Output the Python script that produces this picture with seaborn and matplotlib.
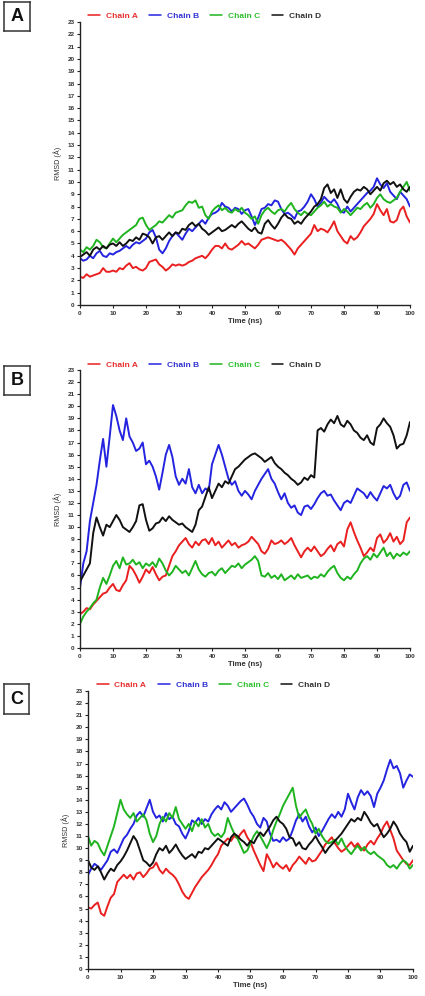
import numpy as np
import pandas as pd
import matplotlib
matplotlib.use("Agg")
import matplotlib.pyplot as plt
import seaborn as sns

# ---------------- data ----------------
TIME = list(range(0, 101))          # ns
CHAINS = ["Chain A", "Chain B", "Chain C", "Chain D"]
PANELS = ["A", "B", "C"]
ZERO_START = 0.0                    # frame 0 of panels A and B

A_A = [2.3, 2.2, 2.5, 2.3, 2.4, 2.5, 2.6, 3.0, 2.7, 2.7,
       2.8, 2.7, 3.0, 2.9, 3.2, 3.4, 3.0, 3.1, 2.9, 2.8,
       3.0, 3.5, 3.6, 3.7, 3.3, 3.1, 2.8, 3.0, 3.3, 3.2,
       3.3, 3.2, 3.3, 3.5, 3.6, 3.8, 3.9, 4.0, 3.8, 4.1,
       4.5, 4.8, 4.8, 4.6, 5.0, 4.6, 4.5, 4.7, 4.9, 5.2,
       4.9, 5.0, 4.8, 4.6, 4.9, 5.3, 5.4, 5.5, 5.4, 5.3,
       5.2, 5.3, 5.1, 4.8, 4.5, 4.1, 4.6, 4.9, 5.2, 5.5,
       5.8, 6.5, 6.0, 6.2, 6.1, 5.9, 6.3, 6.8, 6.0, 5.6,
       5.2, 5.0, 5.6, 5.3, 5.5, 5.9, 6.4, 6.7, 7.0, 7.4,
       8.2, 7.7, 7.3, 7.8, 6.8, 6.7, 6.9, 7.7, 8.0, 7.2,
       6.7]
A_B = [3.8, 3.6, 3.7, 4.0, 3.8, 4.2, 4.4, 4.0, 3.9, 4.2,
       4.1, 4.3, 4.4, 4.6, 4.8, 4.6, 4.9, 5.1, 5.0, 5.2,
       5.4, 5.9, 6.1, 5.5, 4.5, 4.2, 4.6, 5.2, 5.6, 5.9,
       5.6, 5.3, 5.8, 6.2, 6.0, 6.3, 6.6, 6.9, 6.6, 7.1,
       7.4, 7.5, 7.7, 8.3, 8.0, 7.9, 7.6, 7.9, 7.8, 7.4,
       7.7, 7.8, 7.2, 6.5, 7.1, 7.8, 7.9, 8.2, 8.1, 8.5,
       8.4, 7.8, 7.4, 7.5, 7.3, 7.0, 7.6, 7.7, 8.0, 8.4,
       9.0, 8.6, 8.0, 8.3, 8.8, 8.5, 8.3, 8.6, 8.2, 7.6,
       7.5, 8.0, 7.6, 7.9, 8.2, 8.5, 8.8, 9.1, 9.3, 9.6,
       10.3, 9.8, 9.5, 9.9, 9.2, 8.9, 8.6, 9.2, 8.9, 8.6,
       8.0]
A_C = [4.5, 4.3, 4.7, 4.5, 4.8, 5.3, 5.1, 4.7, 4.6, 5.0,
       5.4, 5.1, 5.4, 5.7, 5.9, 6.1, 6.3, 6.5, 7.0, 7.1,
       6.5, 6.1, 6.3, 6.5, 6.8, 6.7, 7.0, 7.3, 7.1, 7.5,
       7.6, 7.7, 8.1, 8.4, 8.3, 8.5, 7.9, 8.0, 7.3, 7.0,
       7.6, 7.9, 8.1, 7.7, 7.9, 7.6, 7.5, 7.8, 7.6, 7.9,
       7.5, 7.3, 7.0, 7.2, 6.6, 7.3, 7.7, 7.9, 7.6, 7.4,
       7.7, 7.8, 7.6, 8.0, 8.3, 7.8, 7.5, 7.3, 7.6, 7.4,
       7.3, 7.6, 7.9, 8.1, 8.4, 8.0, 8.2, 8.0, 7.9, 7.5,
       7.8, 7.6, 7.3, 7.6, 7.9, 7.8, 8.1, 8.3, 7.9, 8.2,
       8.7, 9.0, 8.6, 8.4, 8.3, 8.5, 8.7, 9.2, 9.6, 10.0,
       9.3]
A_D = [3.9, 4.1, 4.3, 4.0, 4.5, 4.7, 4.5, 4.8, 4.6, 4.9,
       5.0, 4.8, 5.1, 4.8, 5.0, 5.3, 5.2, 5.5, 5.3, 5.8,
       5.7, 5.5, 5.0, 5.5, 5.6, 5.3, 5.6, 5.9, 5.6, 5.9,
       5.8, 6.2, 6.1, 6.5, 6.7, 6.4, 6.6, 6.2, 6.0, 5.7,
       5.9, 6.1, 6.3, 6.0, 6.1, 6.3, 6.5, 6.3, 6.6, 6.8,
       6.5, 6.2, 6.0, 6.3, 5.9, 5.8, 6.6, 6.9, 6.5, 6.2,
       6.6, 7.1, 7.4, 7.1, 7.0, 6.6, 6.8, 6.6, 7.0, 7.3,
       7.6, 8.0, 8.2, 8.6, 9.5, 9.8, 9.1, 9.4, 8.7, 9.4,
       8.6, 8.3, 8.8, 9.2, 9.4, 9.3, 9.6, 9.4, 9.0, 9.3,
       9.6, 9.3, 9.9, 10.1, 9.8, 10.0, 9.6, 9.8, 9.4, 9.2,
       9.6]

B_A = [2.8, 3.0, 3.3, 3.2, 3.6, 3.9, 4.2, 4.5, 4.6, 5.0,
       5.3, 4.8, 4.7, 5.2, 5.6, 6.8, 6.5, 6.0, 5.4, 5.9,
       6.5, 6.2, 6.7, 6.1, 5.6, 5.9, 6.0, 6.8, 7.6, 8.0,
       8.5, 8.8, 9.1, 8.6, 8.3, 8.8, 8.5, 8.9, 9.0, 8.6,
       9.1, 8.5, 8.8, 8.3, 8.6, 8.9, 8.5, 8.7, 8.3, 8.5,
       8.6, 8.8, 9.2, 8.9, 8.6, 8.0, 7.8, 8.2, 8.9, 8.6,
       8.7, 8.9, 8.6, 8.8, 9.1, 8.5, 8.0, 7.5, 8.0, 8.3,
       8.0, 8.4, 8.0, 7.6, 7.8, 8.2, 8.5, 8.0, 8.6, 8.8,
       8.4, 9.8, 10.4, 9.6, 8.9, 8.3, 7.6, 7.9, 8.3, 8.0,
       9.1, 9.4, 8.7, 9.0, 9.5, 8.8, 9.2, 8.6, 8.9, 10.4,
       10.8]
B_B = [5.0, 7.0, 8.0, 10.5, 12.0, 13.5, 15.5, 17.3, 15.0, 17.5,
       20.1, 19.2, 18.0, 17.2, 19.0, 17.5, 17.0, 16.3, 16.5, 17.0,
       15.2, 15.5, 15.0, 14.2, 13.1, 14.5, 16.0, 16.8, 15.8, 14.2,
       13.5, 14.0, 13.6, 14.8, 13.3, 12.8, 13.5, 12.8, 13.2, 13.0,
       15.2, 16.0, 16.8, 16.0, 15.0, 14.0, 13.5, 13.8, 13.0, 12.6,
       13.0, 12.7, 12.3, 13.0, 13.5, 14.0, 14.4, 14.8, 14.0, 13.6,
       12.9, 12.3, 12.8, 12.0, 11.6, 11.8, 11.2, 11.0, 11.7, 11.8,
       11.5, 11.9, 12.4, 12.8, 13.0, 12.6, 12.7, 12.2, 11.8, 11.4,
       12.0, 12.2, 12.0, 12.6, 13.2, 13.0, 12.8, 12.4, 12.9, 12.5,
       12.2, 12.8, 13.4, 13.2, 13.5, 12.8, 12.3, 12.6, 13.5, 13.7,
       13.0]
B_C = [2.0, 2.6, 3.0, 3.3, 3.7, 4.0, 5.0, 5.8, 5.3, 6.0,
       6.8, 7.2, 6.6, 7.5, 6.9, 7.0, 7.3, 6.9, 7.1, 6.6,
       7.0, 6.8, 7.1, 6.7, 7.4, 7.0, 6.4, 6.0, 6.3, 6.8,
       6.5, 6.2, 6.4, 6.0, 6.6, 7.2, 6.5, 6.1, 5.9, 6.2,
       6.3, 6.0, 6.4, 6.6, 6.2, 6.5, 6.8, 6.7, 7.0, 6.6,
       6.9, 7.1, 7.3, 7.6, 7.2, 6.0, 5.9, 6.2, 5.8, 6.0,
       5.7, 6.1, 5.6, 5.8, 6.0, 5.7, 6.1, 5.8, 5.9, 6.0,
       5.7, 5.9, 5.8, 6.1, 5.9, 6.3, 6.6, 6.8, 6.2, 5.8,
       5.6, 5.9, 5.7, 6.1, 6.4, 7.0, 7.4, 7.6, 7.3, 7.8,
       7.5, 7.9, 8.3, 7.6, 7.9, 7.4, 7.8, 7.6, 7.9, 7.7,
       8.0]
B_D = [5.5, 6.0, 6.5, 7.0, 9.5, 10.8, 10.0, 9.3, 10.2, 10.0,
       10.5, 11.0, 10.6, 10.0, 9.8, 9.6, 10.0, 10.5, 11.8, 11.9,
       10.6, 9.7, 9.9, 10.3, 10.4, 10.8, 10.5, 10.9, 10.6, 10.4,
       10.2, 10.3, 10.0, 9.8, 9.6, 10.2, 11.4, 11.7, 12.5, 13.3,
       12.4, 13.0, 13.6, 13.3, 13.8, 13.6, 14.2, 14.8, 15.0, 15.3,
       15.6, 15.8, 16.0, 16.1, 15.9, 15.7, 15.4, 15.6, 15.8, 15.3,
       15.0, 14.8, 14.5, 14.3, 14.0, 13.8, 13.5, 13.7, 14.1, 13.9,
       14.3, 14.1, 18.0, 18.2, 17.9, 18.5, 18.9, 18.6, 19.2, 18.5,
       18.3, 18.8, 18.5, 18.0, 17.8, 17.4, 17.2, 17.6, 17.0, 16.8,
       18.2, 18.5, 19.0, 18.6, 18.3, 17.6, 16.5, 16.8, 16.9, 17.6,
       18.7]

C_A = [5.1, 5.0, 5.3, 5.5, 4.6, 4.4, 5.2, 5.9, 6.2, 7.2,
       7.5, 7.8, 7.5, 7.8, 7.4, 7.9, 8.0, 7.6, 7.9, 8.3,
       8.4, 8.8, 8.2, 7.9, 8.3, 8.0, 7.8, 7.5, 7.0, 6.4,
       6.0, 5.8, 6.3, 6.8, 7.2, 7.6, 7.9, 8.2, 8.6, 9.1,
       9.5, 10.2, 10.5, 10.8, 10.6, 11.0, 10.8, 11.2, 11.5, 10.9,
       10.5, 9.8, 9.2, 8.6, 8.1, 9.5, 9.0, 8.4, 8.8, 8.5,
       8.3, 8.6, 8.1, 8.6, 8.9, 9.3, 9.0, 8.7, 9.2, 8.9,
       9.0, 9.4, 9.8, 10.3, 10.6, 10.9, 10.4, 10.0, 9.7, 9.9,
       10.2, 10.5, 10.1, 10.4, 10.0, 9.8, 10.3, 10.6, 10.3, 10.8,
       11.2, 11.8, 12.2, 11.5, 10.8, 9.8, 9.4, 9.0, 8.7, 8.6,
       9.0]
C_B = [7.8, 8.3, 8.7, 8.5, 8.2, 8.6, 9.0, 9.7, 9.9, 9.6,
       10.2, 10.8, 11.1, 11.6, 12.0, 12.7, 13.0, 12.6, 13.3, 14.0,
       13.0, 12.5, 12.7, 12.2, 12.9, 12.4, 12.6, 12.0, 11.8, 11.2,
       10.8, 11.4, 12.3, 12.1, 12.5, 12.0, 12.4, 12.2, 12.8, 13.2,
       13.5, 13.2, 13.8, 13.5, 13.0, 13.3, 13.6, 13.9, 14.1, 13.6,
       13.0, 12.6, 12.0, 11.7, 12.5, 12.2, 11.2, 10.6, 10.7, 10.5,
       10.9, 10.6, 10.8, 11.5, 12.3, 12.8, 12.2, 12.6, 11.8, 11.3,
       11.7, 11.0, 11.4, 11.9, 12.4, 12.8, 12.5, 13.0, 12.6, 13.2,
       14.5, 13.8, 13.2, 14.2, 14.8, 14.4, 14.7, 14.3, 13.4, 14.5,
       15.0, 15.6, 16.5, 17.3, 16.6, 16.8, 16.2, 15.0, 15.6, 16.1,
       15.9]
C_C = [11.0, 10.2, 10.6, 10.4, 9.8, 9.4, 10.2, 11.0, 11.8, 12.9,
       14.0, 13.2, 12.8, 12.5, 12.9, 12.2, 12.5, 12.8, 12.3, 11.2,
       10.5, 11.0, 12.0, 12.6, 12.2, 12.9, 12.5, 13.4, 12.4, 12.0,
       11.6, 12.0, 11.4, 12.2, 11.8, 12.4, 11.7, 12.0, 11.3, 11.0,
       11.2, 10.9, 11.3, 12.5, 11.8, 11.2, 10.8, 10.2, 9.6, 9.8,
       10.4, 11.0, 11.4, 11.0, 10.5, 10.0, 10.6, 11.5, 12.2, 12.8,
       13.5, 14.0, 14.5, 15.0, 13.5, 12.5, 12.9, 13.2, 12.5, 12.0,
       11.2, 11.6, 11.0, 10.6, 10.4, 10.5, 10.7, 10.3, 10.8, 10.2,
       9.8, 9.5, 9.9, 10.2, 9.8, 10.1, 9.7, 9.5, 9.7, 9.4,
       9.2, 9.0, 8.6, 8.4, 8.6, 8.3, 8.7, 9.0, 8.8, 8.3,
       8.6]
C_D = [9.0, 8.4, 8.2, 8.5, 8.0, 7.4, 7.9, 8.3, 8.1, 8.6,
       8.9, 9.3, 9.8, 10.4, 11.0, 10.6, 9.8, 9.0, 8.8, 8.5,
       8.8, 9.5, 10.0, 9.8, 10.2, 9.6, 9.9, 10.3, 9.8, 9.4,
       9.1, 9.3, 9.5, 9.2, 9.7, 9.6, 10.0, 9.9, 10.2, 10.5,
       10.8, 10.6, 10.4, 10.2, 10.9, 11.2, 11.0, 10.7, 10.5, 10.2,
       10.6, 10.4, 10.9, 11.3, 11.0, 11.4, 11.8, 12.3, 12.6, 12.2,
       12.0, 11.6, 10.9, 10.8, 10.2, 10.5, 10.0, 9.9, 10.3, 10.6,
       11.0, 10.5, 10.1, 9.6, 10.0, 10.3, 10.6, 10.9, 11.2, 11.6,
       12.0, 12.4, 12.2, 12.5, 12.3, 13.0, 12.6, 12.1, 11.8, 12.0,
       11.4, 10.9, 11.2, 11.6, 12.2, 11.8, 11.2, 10.8, 10.5, 9.7,
       10.2]

YTICKS = list(range(0, 24))
XTICKS = list(range(0, 101, 10))

# ---------------- style ----------------
LINE_COLORS = {"Chain A": "#ea1f1f", "Chain B": "#2424e0",
               "Chain C": "#1fb41f", "Chain D": "#111111"}
TEXT_COLORS = {"Chain A": "#e83030", "Chain B": "#3232d2",
               "Chain C": "#2ec02e", "Chain D": "#333333"}

sns.set_theme(style="ticks")
plt.rcParams["font.family"] = ["Liberation Sans", "DejaVu Sans"]

W, H = 425, 996
fig = plt.figure(figsize=(W / 100, H / 100), dpi=100)


def frac(l, t, r, b):
    return [l / W, 1 - b / H, (r - l) / W, (b - t) / H]


panel_specs = {
    "A": dict(ax=(80, 22, 410, 305), box=(4, 2, 30, 31), leg=(88, 16),
              data=[A_A, A_B, A_C, A_D], zero=True),
    "B": dict(ax=(80, 370, 410, 648), box=(4, 366, 30, 395), leg=(88, 365),
              data=[B_A, B_B, B_C, B_D], zero=True),
    "C": dict(ax=(88, 691, 413, 969), box=(4, 684, 29, 714), leg=(97, 685),
              data=[C_A, C_B, C_C, C_D], zero=False),
}

for p in PANELS:
    spec = panel_specs[p]
    ax = fig.add_axes(frac(*spec["ax"]))
    rows = []
    for chain, vals in zip(CHAINS, spec["data"]):
        t = ([0] + TIME) if spec["zero"] else TIME
        v = ([ZERO_START] + vals) if spec["zero"] else vals
        rows.append(pd.DataFrame({"time": t, "rmsd": v, "chain": chain}))
    df = pd.concat(rows, ignore_index=True)
    sns.lineplot(data=df, x="time", y="rmsd", hue="chain", hue_order=CHAINS,
                 palette=LINE_COLORS, estimator=None, sort=False,
                 linewidth=1.4, ax=ax, legend=False)

    ax.set_xlim(0, 100)
    ax.set_ylim(0, 23)
    ax.set_xticks(XTICKS)
    ax.set_yticks(YTICKS)
    ax.tick_params(axis="both", labelsize=4.6, length=2.5, width=0.8,
                   pad=1.5, colors="#222222", labelcolor="#333333")
    for lab in ax.get_xticklabels() + ax.get_yticklabels():
        lab.set_fontweight("bold")
    for s in ["top", "right"]:
        ax.spines[s].set_visible(False)
    for s in ["left", "bottom"]:
        ax.spines[s].set_linewidth(1.0)
        ax.spines[s].set_color("#222222")
    ax.set_xlabel("Time (ns)", fontsize=5.6, fontweight="bold",
                  color="#333333", labelpad=2)
    ax.set_ylabel("RMSD (Å)", fontsize=5.2, color="#333333", labelpad=4)

    handles = ax.get_lines()[:4]
    leg = ax.legend(handles=handles, labels=CHAINS, ncol=4, frameon=False,
                    loc="center left",
                    bbox_to_anchor=(spec["leg"][0] / W, 1 - spec["leg"][1] / H),
                    bbox_transform=fig.transFigure,
                    fontsize=6, handlelength=1.4, handletextpad=0.7,
                    columnspacing=1.4, borderpad=0, borderaxespad=0)
    for line in leg.get_lines():
        line.set_linewidth(1.1)
    for txt, ch in zip(leg.get_texts(), CHAINS):
        txt.set_color(TEXT_COLORS[ch])
        txt.set_fontweight("bold")

    # panel letter box
    bx = fig.add_axes(frac(*spec["box"]))
    bx.set_xticks([])
    bx.set_yticks([])
    for s in bx.spines.values():
        s.set_linewidth(1.1)
        s.set_color("#333333")
    bx.text(0.5, 0.5, p, ha="center", va="center", fontsize=13,
            fontweight="bold", transform=bx.transAxes, color="#111111")

fig.savefig("out.png", dpi=100)
